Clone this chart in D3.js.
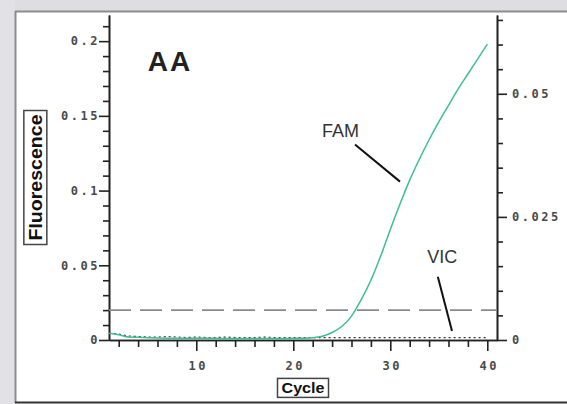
<!DOCTYPE html>
<html>
<head>
<meta charset="utf-8">
<script src="https://cdn.jsdelivr.net/npm/d3@7"></script>
<style>
  body { margin: 0; background: #fff; }
  svg { display: block; }
</style>
</head>
<body>
<div id="chart"></div>
<script>
// cycles and readings
var cycles = [1,2,3,4,5,6,7,8,9,10,11,12,13,14,15,16,17,18,19,20,
              21,22,23,24,25,26,27,28,29,30,31,32,33,34,35,36,37,38,39,40];
var fam = [0.0045,0.0035,0.0020,0.0018,0.0015,0.0013,0.0012,0.0012,0.0011,0.0011,
           0.0012,0.0011,0.0010,0.0010,0.0010,0.0010,0.0010,0.0010,0.0010,0.0011,
           0.0012,0.0015,0.0025,0.0050,0.0090,0.0160,0.0270,0.0400,0.0560,0.0740,
           0.0910,0.1070,0.1210,0.1340,0.1460,0.1570,0.1680,0.1780,0.1880,0.1980];
var vic = [0.0014,0.0012,0.0008,0.0007,0.0006,0.0006,0.0007,0.0006,0.0005,0.0006,
           0.0005,0.0005,0.0006,0.0005,0.0005,0.0005,0.0006,0.0005,0.0005,0.0005,
           0.0005,0.0005,0.0005,0.0005,0.0005,0.0005,0.0005,0.0005,0.0005,0.0005,
           0.0005,0.0005,0.0005,0.0005,0.0005,0.0005,0.0005,0.0005,0.0005,0.0005];
var threshold = 0.02;

// tick labels
var xMajor = [10, 20, 30, 40];
var xMinor = [2,4,6,8,12,14,16,18,22,24,26,28,32,34,36,38];
var leftMajor = [0, 0.05, 0.1, 0.15, 0.2];
var leftLabels = ["0", "0.05", "0.1", "0.15", "0.2"];
var leftMinor = [0.01,0.02,0.03,0.04,0.06,0.07,0.08,0.09,0.11,0.12,0.13,0.14,0.16,0.17,0.18,0.19,0.21];
var rightMajor = [0, 0.025, 0.05];
var rightLabels = ["0", "0.025", "0.05"];
var rightMinor = [0.005,0.01,0.015,0.02,0.03,0.035,0.04,0.045,0.055,0.06,0.065];

var W = 567, H = 404;
var plotLeft = 109, plotRight = 497, plotTop = 15, plotBottom = 340;

var svg = d3.select("#chart").append("svg")
    .attr("width", W)
    .attr("height", H);

// window frame
svg.append("rect").attr("x", 0).attr("y", 0).attr("width", W).attr("height", 11).attr("fill", "#dedee2");
svg.append("rect").attr("x", 0).attr("y", 0).attr("width", 15).attr("height", H).attr("fill", "#e2e2e6");
svg.append("line").attr("x1", 15).attr("x2", W).attr("y1", 11.5).attr("y2", 11.5)
    .attr("stroke", "#8c8c8c").attr("stroke-width", 2);
svg.append("line").attr("x1", 15.5).attr("x2", 15.5).attr("y1", 11).attr("y2", 403)
    .attr("stroke", "#8c8c8c").attr("stroke-width", 2);
svg.append("line").attr("x1", 15).attr("x2", W).attr("y1", 402.5).attr("y2", 402.5)
    .attr("stroke", "#333").attr("stroke-width", 2);

var x = d3.scaleLinear().domain([1, 41]).range([plotLeft, plotRight]);
var yL = d3.scaleLinear().domain([0, 0.2175]).range([plotBottom, plotTop]);
var yR = d3.scaleLinear().domain([0, 0.066]).range([plotBottom, plotTop]);

var tickFont = "'DejaVu Sans Mono', monospace";

function styleAxis(g) {
  g.select(".domain").attr("stroke", "#222").attr("stroke-width", 1.6);
  g.selectAll(".tick line").attr("stroke", "#222").attr("stroke-width", 1.6);
  g.selectAll(".tick text")
    .attr("fill", "#4a4a4a")
    .style("font-family", tickFont)
    .style("font-size", "12px")
    .style("font-weight", "bold")
    .style("letter-spacing", "2.5px");
}

// minor ticks first
svg.append("g")
    .attr("transform", "translate(" + plotLeft + ",0)")
    .call(d3.axisLeft(yL).tickValues(leftMinor).tickSize(6).tickSizeOuter(0).tickFormat(""))
    .call(styleAxis);
svg.append("g")
    .attr("transform", "translate(" + plotRight + ",0)")
    .call(d3.axisRight(yR).tickValues(rightMinor).tickSize(6).tickSizeOuter(0).tickFormat(""))
    .call(styleAxis);
svg.append("g")
    .attr("transform", "translate(0," + plotBottom + ")")
    .call(d3.axisBottom(x).tickValues(xMinor).tickSize(7).tickSizeOuter(0).tickFormat(""))
    .call(styleAxis);

// major ticks
svg.append("g")
    .attr("transform", "translate(" + plotLeft + ",0)")
    .call(d3.axisLeft(yL).tickValues(leftMajor).tickSize(10).tickPadding(1).tickSizeOuter(0)
      .tickFormat(function(d, i) { return leftLabels[i]; }))
    .call(styleAxis)
    .selectAll(".tick text").attr("dx", "2px");
svg.append("g")
    .attr("transform", "translate(" + plotRight + ",0)")
    .call(d3.axisRight(yR).tickValues(rightMajor).tickSize(10).tickPadding(5).tickSizeOuter(0)
      .tickFormat(function(d, i) { return rightLabels[i]; }))
    .call(styleAxis);
svg.append("g")
    .attr("transform", "translate(0," + plotBottom + ")")
    .call(d3.axisBottom(x).tickValues(xMajor).tickSize(11).tickPadding(10).tickSizeOuter(0)
      .tickFormat(d3.format("d")))
    .call(styleAxis)
    .selectAll(".tick text").attr("dx", "1.5px");

// threshold
svg.append("line")
    .attr("x1", x(1)).attr("x2", x(41))
    .attr("y1", yL(threshold)).attr("y2", yL(threshold))
    .attr("stroke", "#8a8a8a")
    .attr("stroke-width", 1.6)
    .attr("stroke-dasharray", "22,9");

// VIC (right axis)
svg.append("path")
    .datum(cycles)
    .attr("fill", "none")
    .attr("stroke", "#333")
    .attr("stroke-width", 1.2)
    .attr("stroke-dasharray", "2,3")
    .attr("d", d3.line()
      .x(function(d) { return x(d); })
      .y(function(d, i) { return yR(vic[i]); }));

// FAM (left axis)
svg.append("path")
    .datum(cycles)
    .attr("fill", "none")
    .attr("stroke", "#3cbf93")
    .attr("stroke-width", 1.5)
    .attr("d", d3.line()
      .curve(d3.curveMonotoneX)
      .x(function(d) { return x(d); })
      .y(function(d, i) { return yL(fam[i]); }));

// annotations
svg.append("text")
    .attr("x", x(5)).attr("y", yL(0.18))
    .style("font-family", "'Liberation Sans', Arial, sans-serif")
    .style("font-size", "28px")
    .style("font-weight", "bold")
    .style("letter-spacing", "2px")
    .attr("fill", "#222")
    .text("AA");

svg.append("text")
    .attr("x", x(22.96)).attr("y", yL(0.136))
    .style("font-family", "'Liberation Sans', Arial, sans-serif")
    .style("font-size", "18px")
    .attr("fill", "#333")
    .text("FAM");
svg.append("line")
    .attr("x1", x(26.36)).attr("y1", yL(0.1309))
    .attr("x2", x(31.0)).attr("y2", yL(0.106))
    .attr("stroke", "#111").attr("stroke-width", 2);

svg.append("text")
    .attr("x", x(33.8)).attr("y", yL(0.0517))
    .style("font-family", "'Liberation Sans', Arial, sans-serif")
    .style("font-size", "18px")
    .attr("fill", "#333")
    .text("VIC");
svg.append("line")
    .attr("x1", x(34.9)).attr("y1", yL(0.0423))
    .attr("x2", x(36.36)).attr("y2", yL(0.006))
    .attr("stroke", "#111").attr("stroke-width", 2);

// boxed axis titles
function boxedLabel(cx, cy, rotate, txt, size, len) {
  var g = svg.append("g")
      .attr("transform", "translate(" + cx + "," + cy + ")" + (rotate ? " rotate(-90)" : ""));
  var t = g.append("text")
      .attr("text-anchor", "middle")
      .attr("dy", "0.36em")
      .style("font-family", "'Liberation Sans', Arial, sans-serif")
      .style("font-size", size + "px")
      .style("font-weight", "bold")
      .attr("fill", "#111")
      .text(txt);
  if (len) t.attr("textLength", len).attr("lengthAdjust", "spacingAndGlyphs");
  var b = t.node().getBBox();
  g.insert("rect", "text")
      .attr("x", b.x - 4).attr("y", b.y - 1)
      .attr("width", b.width + 8).attr("height", b.height + 2)
      .attr("fill", "#fff")
      .attr("stroke", "#444")
      .attr("stroke-width", 1.5);
}
boxedLabel(35, (plotTop + plotBottom) / 2, true, "Fluorescence", 19, 126);
boxedLabel(x(21), 388, false, "Cycle", 15, 43);
</script>
</body>
</html>
